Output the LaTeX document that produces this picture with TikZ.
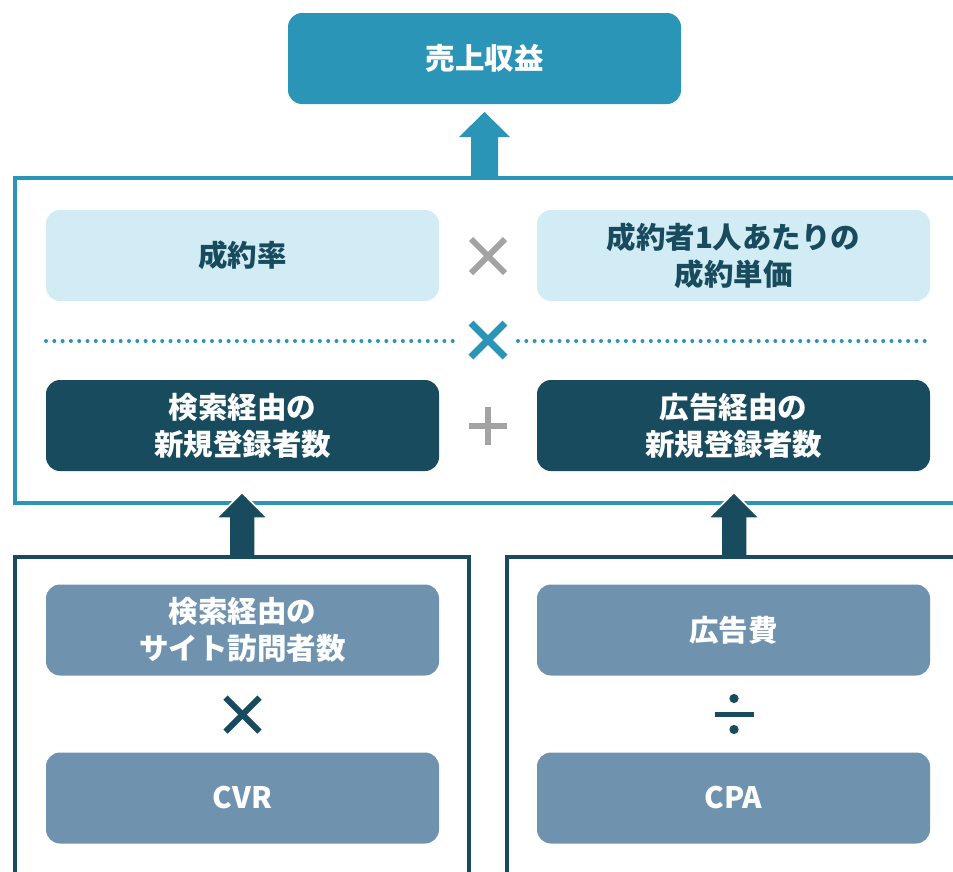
\documentclass[tikz,border=0pt]{standalone}
\usepackage{fontspec}
\usetikzlibrary{calc}
\setmainfont{Noto Sans CJK JP}
\definecolor{topblue}{HTML}{2A95B6}
\definecolor{lightblue}{HTML}{D1ECF4}
\definecolor{darkteal}{HTML}{174B5D}
\definecolor{steel}{HTML}{6F93AF}
\definecolor{opgray}{HTML}{A3A3A3}
\tikzset{
  box/.style={rounded corners=14pt, minimum width=393pt, minimum height=91pt, inner sep=0pt, align=center,
    font=\fontsize{29.5pt}{37pt}\selectfont\bfseries},
  topbox/.style={box, fill=topblue, text=white},
  lightbox/.style={box, fill=lightblue, text=darkteal},
  darkbox/.style={box, fill=darkteal, text=white},
  steelbox/.style={box, fill=steel, text=white},
  opline/.style={line width=6pt, line cap=butt},
}
\begin{document}
\begin{tikzpicture}[x=1pt,y=-1pt]
\useasboundingbox (0,0) rectangle (953,871);
\clip (0,0) rectangle (953,871);
% middle frame
\draw[topblue, line width=4pt] (15,178) rectangle (990,503);
% top arrow
\coordinate (ta) at (484.5,178);
\fill[topblue] ($(ta)+(-13.5,0)$) -- ($(ta)+(-13.5,-41)$) -- ($(ta)+(-25.5,-41)$) -- ($(ta)+(0,-66)$)
  -- ($(ta)+(25.5,-41)$) -- ($(ta)+(13.5,-41)$) -- ($(ta)+(13.5,0)$) -- cycle;
% nodes
\node[topbox] (rev) at (484.5,58.5) {売上収益};
\node[lightbox] (cr) at (242.5,255.5) {成約率};
\node[lightbox] (up) at (733.5,255.5) {成約者1人あたりの\\成約単価};
\node[darkbox] (sreg) at (242.5,425.5) {検索経由の\\新規登録者数};
\node[darkbox] (areg) at (733.5,425.5) {広告経由の\\新規登録者数};
% operators in middle frame
\coordinate (op1) at (488,256);
\draw[opgray, opline] ($(op1)+(-17,-17)$) -- ($(op1)+(17,17)$);
\draw[opgray, opline] ($(op1)+(-17,17)$) -- ($(op1)+(17,-17)$);
\coordinate (op2) at (488,340);
\draw[topblue, line width=7pt] ($(op2)+(-17,-17)$) -- ($(op2)+(17,17)$);
\draw[topblue, line width=7pt] ($(op2)+(-17,17)$) -- ($(op2)+(17,-17)$);
\draw[topblue, line width=4pt, line cap=round, dash pattern=on 0pt off 8.3pt] (46,341) -- (460,341);
\draw[topblue, line width=4pt, line cap=round, dash pattern=on 0pt off 8.3pt] (518,341) -- (930,341);
\coordinate (op3) at (488,426);
\draw[opgray, line width=5.5pt] ($(op3)+(-19,0)$) -- ($(op3)+(19,0)$);
\draw[opgray, line width=5.5pt] ($(op3)+(0,-19)$) -- ($(op3)+(0,19)$);
% bottom arrows
\foreach \cx/\nm in {242/la, 734/ra}{
  \coordinate (\nm) at (\cx,557);
  \filldraw[darkteal, draw=white, line width=1.5pt, line join=miter] ($(\nm)+(-13,0)$) -- ($(\nm)+(-13,-39)$) -- ($(\nm)+(-25.5,-39)$) -- ($(\nm)+(0,-64.5)$)
    -- ($(\nm)+(25.5,-39)$) -- ($(\nm)+(13,-39)$) -- ($(\nm)+(13,0)$);
}
% bottom frames
\draw[darkteal, line width=4.5pt] (15,557) rectangle (469,900);
\draw[darkteal, line width=4.5pt] (507,557) rectangle (990,900);
\node[steelbox] (visit) at (242.5,630) {検索経由の\\サイト訪問者数};
\node[steelbox] (cvr) at (242.5,798) {CVR};
\node[steelbox] (adc) at (733.5,630) {広告費};
\node[steelbox] (cpa) at (733.5,798) {CPA};
\coordinate (op4) at (242.5,714.5);
\draw[darkteal, opline] ($(op4)+(-17,-17)$) -- ($(op4)+(17,17)$);
\draw[darkteal, opline] ($(op4)+(-17,17)$) -- ($(op4)+(17,-17)$);
\coordinate (op5) at (734,714);
\draw[darkteal, line width=5pt] ($(op5)+(-19.5,0)$) -- ($(op5)+(19.5,0)$);
\fill[darkteal] ($(op5)+(0,-15.5)$) circle (4.6pt);
\fill[darkteal] ($(op5)+(0,15.5)$) circle (4.6pt);
\end{tikzpicture}
\end{document}
